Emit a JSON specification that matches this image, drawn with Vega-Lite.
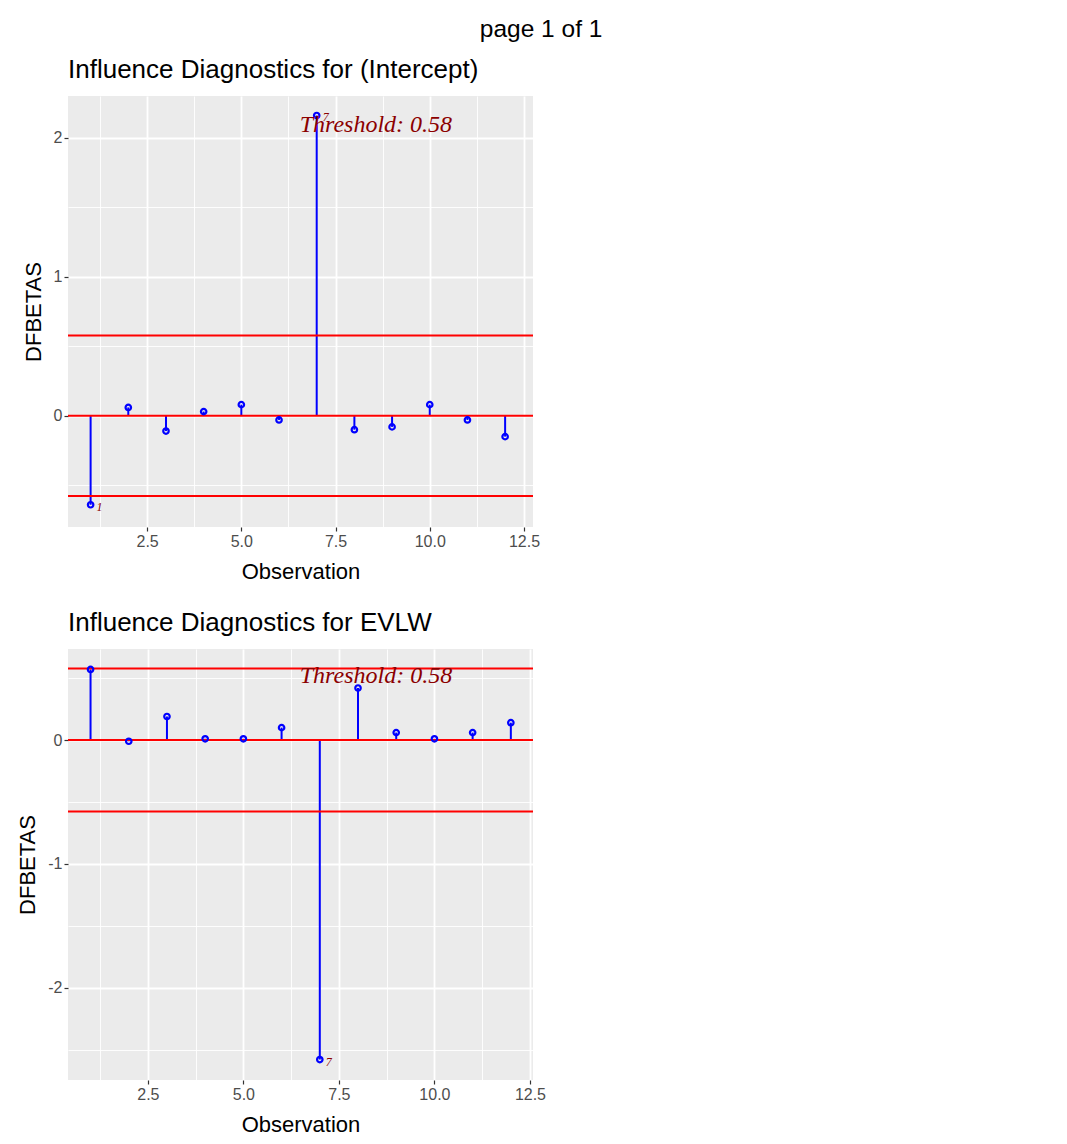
{
  "$schema": "https://vega.github.io/schema/vega-lite/v6.json",
  "background": "white",
  "padding": {"left": 16, "top": 16, "right": 5, "bottom": 2},
  "title": {"text": "page 1 of 1", "fontSize": 24.5, "anchor": "start", "dx": 463, "offset": 15},
  "spacing": 28,
  "vconcat": [
    {
      "width": 465,
      "height": 431,
      "title": {"text": "Influence Diagnostics for (Intercept)", "fontSize": 26, "anchor": "start", "frame": "group", "offset": 13},
      "data": {"values": [
        {"obs": 1, "dfb": -0.64}, {"obs": 2, "dfb": 0.06}, {"obs": 3, "dfb": -0.11},
        {"obs": 4, "dfb": 0.03}, {"obs": 5, "dfb": 0.08}, {"obs": 6, "dfb": -0.03},
        {"obs": 7, "dfb": 2.16}, {"obs": 8, "dfb": -0.10}, {"obs": 9, "dfb": -0.08},
        {"obs": 10, "dfb": 0.08}, {"obs": 11, "dfb": -0.03}, {"obs": 12, "dfb": -0.15}
      ]},
      "layer": [
        {
          "mark": {"type": "rule", "color": "#0000FF", "strokeWidth": 2},
          "encoding": {
            "x": {"field": "obs", "type": "quantitative", "title": "Observation",
              "scale": {"domain": [0.4, 12.74], "nice": false, "zero": false},
              "axis": {"values": [1.25, 2.5, 3.75, 5, 6.25, 7.5, 8.75, 10, 11.25, 12.5],
                "titlePadding": 12,
                "labelExpr": "datum.value % 2.5 === 0 ? format(datum.value, '.1f') : ''",
                "gridWidth": {"condition": {"test": "datum.value % 2.5 === 0", "value": 1.8}, "value": 0.9},
                "tickOpacity": {"condition": {"test": "datum.value % 2.5 === 0", "value": 1}, "value": 0}}},
            "y": {"field": "dfb", "type": "quantitative", "title": "DFBETAS",
              "scale": {"domain": [-0.8, 2.3], "nice": false, "zero": false},
              "axis": {"values": [-0.5, 0, 0.5, 1, 1.5, 2],
                "labelExpr": "datum.value % 1 === 0 ? toString(datum.value) : ''",
                "gridWidth": {"condition": {"test": "datum.value % 1 === 0", "value": 1.8}, "value": 0.9},
                "tickOpacity": {"condition": {"test": "datum.value % 1 === 0", "value": 1}, "value": 0}}},
            "y2": {"datum": 0}
          }
        },
        {
          "data": {"values": [{"thr": -0.5774}, {"thr": 0}, {"thr": 0.5774}]},
          "mark": {"type": "rule", "color": "#FF0000", "strokeWidth": 2},
          "encoding": {"y": {"field": "thr", "type": "quantitative", "title": "DFBETAS"}}
        },
        {
          "mark": {"type": "point", "shape": "circle", "filled": false, "color": "#0000FF", "strokeWidth": 2.2, "size": 30, "opacity": 1},
          "encoding": {
            "x": {"field": "obs", "type": "quantitative", "title": "Observation"},
            "y": {"field": "dfb", "type": "quantitative", "title": "DFBETAS"}
          }
        },
        {
          "transform": [{"filter": "abs(datum.dfb) > 0.5774"}],
          "mark": {"type": "text", "font": "Liberation Serif", "fontStyle": "italic", "fontSize": 12, "color": "#8B0000", "align": "left", "baseline": "middle", "dx": 6, "dy": 2},
          "encoding": {
            "x": {"field": "obs", "type": "quantitative", "title": "Observation"},
            "y": {"field": "dfb", "type": "quantitative", "title": "DFBETAS"},
            "text": {"field": "obs", "type": "nominal"}
          }
        },
        {
          "data": {"values": [{"txt": "Threshold: 0.58", "tx": 8.57, "ty": 2.094}]},
          "mark": {"type": "text", "font": "Liberation Serif", "fontStyle": "italic", "fontSize": 24, "color": "#8B0000", "align": "center", "baseline": "middle"},
          "encoding": {
            "x": {"field": "tx", "type": "quantitative", "title": "Observation"},
            "y": {"field": "ty", "type": "quantitative", "title": "DFBETAS"},
            "text": {"field": "txt", "type": "nominal"}
          }
        }
      ]
    },
    {
      "width": 465,
      "height": 431,
      "title": {"text": "Influence Diagnostics for EVLW", "fontSize": 26, "anchor": "start", "frame": "group", "offset": 13},
      "data": {"values": [
        {"obs": 1, "dfb": 0.57}, {"obs": 2, "dfb": -0.01}, {"obs": 3, "dfb": 0.19},
        {"obs": 4, "dfb": 0.01}, {"obs": 5, "dfb": 0.01}, {"obs": 6, "dfb": 0.10},
        {"obs": 7, "dfb": -2.58}, {"obs": 8, "dfb": 0.42}, {"obs": 9, "dfb": 0.06},
        {"obs": 10, "dfb": 0.01}, {"obs": 11, "dfb": 0.06}, {"obs": 12, "dfb": 0.14}
      ]},
      "layer": [
        {
          "mark": {"type": "rule", "color": "#0000FF", "strokeWidth": 2},
          "encoding": {
            "x": {"field": "obs", "type": "quantitative", "title": "Observation",
              "scale": {"domain": [0.41, 12.58], "nice": false, "zero": false},
              "axis": {"values": [1.25, 2.5, 3.75, 5, 6.25, 7.5, 8.75, 10, 11.25, 12.5],
                "titlePadding": 12,
                "labelExpr": "datum.value % 2.5 === 0 ? format(datum.value, '.1f') : ''",
                "gridWidth": {"condition": {"test": "datum.value % 2.5 === 0", "value": 1.8}, "value": 0.9},
                "tickOpacity": {"condition": {"test": "datum.value % 2.5 === 0", "value": 1}, "value": 0}}},
            "y": {"field": "dfb", "type": "quantitative", "title": "DFBETAS",
              "scale": {"domain": [-2.745, 0.735], "nice": false, "zero": false},
              "axis": {"values": [-2.5, -2, -1.5, -1, -0.5, 0, 0.5],
                "labelExpr": "datum.value % 1 === 0 ? toString(datum.value) : ''",
                "gridWidth": {"condition": {"test": "datum.value % 1 === 0", "value": 1.8}, "value": 0.9},
                "tickOpacity": {"condition": {"test": "datum.value % 1 === 0", "value": 1}, "value": 0}}},
            "y2": {"datum": 0}
          }
        },
        {
          "data": {"values": [{"thr": -0.5774}, {"thr": 0}, {"thr": 0.5774}]},
          "mark": {"type": "rule", "color": "#FF0000", "strokeWidth": 2},
          "encoding": {"y": {"field": "thr", "type": "quantitative", "title": "DFBETAS"}}
        },
        {
          "mark": {"type": "point", "shape": "circle", "filled": false, "color": "#0000FF", "strokeWidth": 2.2, "size": 30, "opacity": 1},
          "encoding": {
            "x": {"field": "obs", "type": "quantitative", "title": "Observation"},
            "y": {"field": "dfb", "type": "quantitative", "title": "DFBETAS"}
          }
        },
        {
          "transform": [{"filter": "abs(datum.dfb) > 0.5774"}],
          "mark": {"type": "text", "font": "Liberation Serif", "fontStyle": "italic", "fontSize": 12, "color": "#8B0000", "align": "left", "baseline": "middle", "dx": 6, "dy": 2},
          "encoding": {
            "x": {"field": "obs", "type": "quantitative", "title": "Observation"},
            "y": {"field": "dfb", "type": "quantitative", "title": "DFBETAS"},
            "text": {"field": "obs", "type": "nominal"}
          }
        },
        {
          "data": {"values": [{"txt": "Threshold: 0.58", "tx": 8.47, "ty": 0.514}]},
          "mark": {"type": "text", "font": "Liberation Serif", "fontStyle": "italic", "fontSize": 24, "color": "#8B0000", "align": "center", "baseline": "middle"},
          "encoding": {
            "x": {"field": "tx", "type": "quantitative", "title": "Observation"},
            "y": {"field": "ty", "type": "quantitative", "title": "DFBETAS"},
            "text": {"field": "txt", "type": "nominal"}
          }
        }
      ]
    }
  ],
  "config": {
    "font": "Liberation Sans",
    "view": {"stroke": null, "fill": "#EBEBEB"},
    "axis": {
      "domain": false,
      "labelFont": "Liberation Sans", "labelFontSize": 16, "labelColor": "#4D4D4D",
      "tickColor": "#333333", "tickSize": 4, "tickWidth": 1.2, "labelPadding": 2,
      "titleFont": "Liberation Sans", "titleFontSize": 22, "titleFontWeight": "normal", "titleColor": "#000000",
      "titlePadding": 8,
      "gridColor": "#FFFFFF"
    },
    "title": {"font": "Liberation Sans", "fontWeight": "normal", "color": "#000000"}
  }
}
